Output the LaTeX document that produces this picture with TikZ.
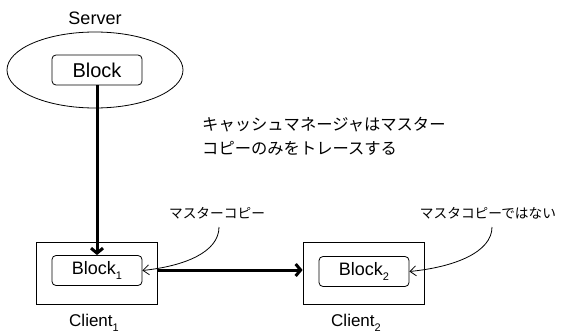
\documentclass[tikz,border=0pt]{standalone}
\usepackage{fontspec}
\setmainfont{Liberation Sans}
\newfontfamily\jpfont{Noto Sans CJK JP}
\usetikzlibrary{shapes.geometric,arrows.meta}
\newcommand\lowidx[1]{\raisebox{-0.3em}{\fontsize{11}{11}\selectfont #1}}
\tikzset{
  thin line/.style={line width=0.8pt},
  outerbox/.style={draw, thin line, rectangle, minimum width=121pt, minimum height=62pt, inner sep=0pt},
  blockbox/.style={draw, thin line, rectangle, rounded corners=4pt, minimum width=90pt, minimum height=30pt, inner sep=0pt, font=\fontsize{18}{20}\selectfont},
  caption/.style={font=\fontsize{17}{20}\selectfont, inner sep=0pt},
  note/.style={font=\jpfont\fontsize{13.7}{16}\selectfont, inner sep=0pt},
  bigarrow/.style={line width=3pt, -{Straight Barb[length=5pt,width=12pt,line width=3pt]}},
  pointer/.style={thin line, -{Straight Barb[length=6pt,width=10pt]}},
}
\begin{document}
\begin{tikzpicture}[x=1pt,y=-1pt]
  \useasboundingbox (0,0) rectangle (561,334);

  % server side
  \node[caption, font=\fontsize{18}{20}\selectfont] (serverlabel) at (95,18) {Server};
  \node[draw, thin line, ellipse, minimum width=176pt, minimum height=76pt, inner sep=0pt] (server) at (95,70) {};
  \node[blockbox, font=\fontsize{20}{22}\selectfont] (sblock) at (97,70) {Block};

  % clients
  \node[outerbox] (client1) at (96.5,273) {};
  \node[blockbox] (block1) at (97,270.5) {Block\lowidx{1}};
  \node[caption] (c1label) at (94,323) {Client\lowidx{1}};

  \node[outerbox] (client2) at (363.5,273) {};
  \node[blockbox] (block2) at (364,271.5) {Block\lowidx{2}};
  \node[caption] (c2label) at (356,323) {Client\lowidx{2}};

  % explanatory text
  \node[font=\jpfont\fontsize{16.3}{24}\selectfont, align=left, anchor=west, inner sep=0pt] (title) at (202,136)
    {キャッシュマネージャはマスター\\コピーのみをトレースする};

  % annotations
  \node[note] (note1) at (217,213) {マスターコピー};
  \node[note] (note2) at (488,213) {マスタコピーではない};
  \coordinate (n1) at (219,227);
  \coordinate (n2) at (492,227);

  % data flow
  \draw[bigarrow] (sblock.south) -- (block1.north);
  \draw[bigarrow] (client1.east |- 0,270) -- (client2.west |- 0,270);

  % annotation pointers
  \draw[pointer] (n1) .. controls (219,252) and (185,266) .. (block1.east);
  \draw[pointer] (n2) .. controls (492,252) and (455,267) .. (block2.east);
\end{tikzpicture}
\end{document}
